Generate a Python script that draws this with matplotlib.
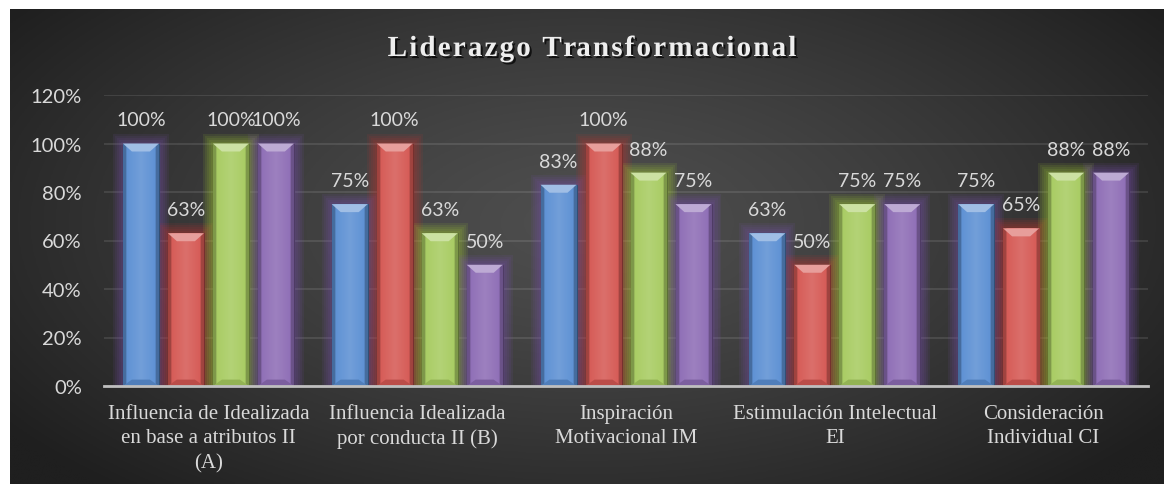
import numpy as np
import matplotlib.pyplot as plt
import matplotlib.patheffects as pe
from matplotlib.patches import Rectangle, Polygon
from matplotlib.colors import to_rgb
from matplotlib.ticker import FuncFormatter
from matplotlib.textpath import TextToPath
from matplotlib.font_manager import FontProperties

# Datos del gráfico
categorias = [
    'Influencia de Idealizada\nen base a atributos II\n(A)',
    'Influencia Idealizada\npor conducta II (B)',
    'Inspiración\nMotivacional IM',
    'Estimulación Intelectual\nEI',
    'Consideración\nIndividual CI',
]
serie_1 = [1.00, 0.75, 0.83, 0.63, 0.75]
serie_2 = [0.63, 1.00, 1.00, 0.50, 0.65]
serie_3 = [1.00, 0.63, 0.88, 0.75, 0.88]
serie_4 = [1.00, 0.50, 0.75, 0.75, 0.88]
series = [serie_1, serie_2, serie_3, serie_4]

titulo = 'Liderazgo Transformacional'
colores = ['#5b8fd3', '#d55853', '#a7cb60', '#8d6cb5']
brillos = ['#7a52b0', '#c8342f', '#a9d534', '#7d52b6']
gris_texto = '#d9d9d9'


def mezclar(c, otro, t):
    a = np.array(to_rgb(c))
    b = np.array(to_rgb(otro))
    return tuple(a * (1 - t) + b * t)


W, H = 1164, 485
fig = plt.figure(figsize=(W / 100, H / 100), dpi=100, facecolor='white')

# fondo oscuro con degradado radial
bg = fig.add_axes([10 / W, 0, 1 - 10 / W, (H - 10) / H], zorder=0)
gx, gy = np.meshgrid(np.linspace(0, 1, 400), np.linspace(0, 1, 200))
r = np.sqrt(((gx - 0.5) / 0.62) ** 2 + ((gy - 0.55) / 0.75) ** 2)
r = np.clip(r, 0, 1)
centro = np.array(to_rgb('#4e4e4e'))
borde = np.array(to_rgb('#1f1f1f'))
fondo = centro[None, None, :] * (1 - r[..., None] ** 1.3) + borde[None, None, :] * (r[..., None] ** 1.3)
bg.imshow(fondo, extent=[0, 1, 0, 1], aspect='auto', origin='lower')
bg.axis('off')

ax = fig.add_axes([104 / W, (H - 387) / H, (1148 - 104) / W, (387 - 96) / H], zorder=1)
ax.patch.set_alpha(0)
ax.set_xlim(-0.5, len(categorias) - 0.5)
ax.set_ylim(0, 1.2)

bb = ax.get_window_extent()
px_x = bb.width / len(categorias)
px_y = bb.height / 1.2

x = np.arange(len(categorias))
paso = 45 / px_x
ancho = 36 / px_x

for i, (valores, color, brillo) in enumerate(zip(series, colores, brillos)):
    barras = ax.bar(x + (i - 1.5) * paso, valores, width=ancho, color=color,
                    edgecolor=mezclar(color, 'black', 0.45), linewidth=0.8, zorder=4)
    for barra, v in zip(barras, valores):
        x0 = barra.get_x()
        w = barra.get_width()
        h = barra.get_height()
        x1 = x0 + w
        # resplandor alrededor de la barra
        for k in range(1, 6):
            pad = 2.0 * k
            ax.add_patch(Rectangle((x0 - pad / px_x, 0), w + 2 * pad / px_x, h + pad / px_y,
                                   color=brillo, alpha=0.1, lw=0, zorder=2))
        # relleno con degradado horizontal
        u = np.linspace(-1, 1, 64)
        t_luz = 0.14 * (1 - np.abs(u))
        t_osc = np.where(np.abs(u) > 0.82, 0.25, 0.0)
        fila = np.array([mezclar(mezclar(color, 'white', a), 'black', b) for a, b in zip(t_luz, t_osc)])
        img = np.repeat(fila[None, :, :], 2, axis=0)
        im = ax.imshow(img, extent=[x0, x1, 0, h], aspect='auto', zorder=4.5)
        im.set_clip_path(barra)
        # bisel superior
        dx = 9 / px_x
        dy = 8 / px_y
        ax.add_patch(Polygon([(x0, h), (x1, h), (x1 - dx, h - dy), (x0 + dx, h - dy)],
                             closed=True, color=mezclar(color, 'white', 0.42), lw=0, zorder=5))
        # bisel inferior
        ax.add_patch(Polygon([(x0, 0), (x1, 0), (x1 - dx, dy * 0.8), (x0 + dx, dy * 0.8)],
                             closed=True, color=mezclar(color, 'black', 0.12), lw=0, zorder=5))
        ax.text(x0 + w / 2, h + 18 / px_y, f'{v:.0%}', ha='center', va='baseline',
                fontsize=14, family='Lato', color=gris_texto, zorder=6)

ax.set_xlim(-0.5, len(categorias) - 0.5)
ax.set_ylim(0, 1.2)

ax.set_yticks(np.arange(0, 1.21, 0.2))
ax.yaxis.set_major_formatter(FuncFormatter(lambda v, _: f'{v:.0%}'))
ax.set_xticks(x)
ax.set_xticklabels(categorias, family='Liberation Serif', fontsize=15, linespacing=1.38)
ax.tick_params(axis='x', length=0, pad=13, colors=gris_texto)
ax.tick_params(axis='y', length=0, pad=16, colors=gris_texto, labelsize=14.5)
for lab in ax.get_yticklabels():
    lab.set_family('Lato')

ax.grid(axis='y', color='white', alpha=0.12, linewidth=1.2, zorder=1)
ax.set_axisbelow(True)
for lado in ['left', 'right', 'top']:
    ax.spines[lado].set_visible(False)
ax.spines['bottom'].set_color('#bfbfbf')
ax.spines['bottom'].set_linewidth(2)
ax.spines['bottom'].set_zorder(7)

# título con espaciado entre letras
fp = FontProperties(family='Liberation Serif', weight='bold', size=21)
ttp = TextToPath()
ancho_x = ttp.get_text_width_height_descent('x', fp, ismath=False)[0]
escala = 100 / 72
espacio = 2.1
avances = [(ttp.get_text_width_height_descent(titulo[:j] + 'x', fp, ismath=False)[0] - ancho_x) * escala
           + j * espacio for j in range(len(titulo))]
total = (ttp.get_text_width_height_descent(titulo, fp, ismath=False)[0] * escala
         + (len(titulo) - 1) * espacio)
inicio = 592 - total / 2
sombra = [pe.SimplePatchShadow(offset=(1.5, -1.5), shadow_rgbFace='black', alpha=0.7), pe.Normal()]
for letra, av in zip(titulo, avances):
    if letra == ' ':
        continue
    fig.text((inicio + av) / W, (H - 57) / H, letra, ha='left', va='baseline',
             fontproperties=fp, color='#eeeeee', path_effects=sombra)

fig.savefig('out.png', dpi=100, facecolor='white')
